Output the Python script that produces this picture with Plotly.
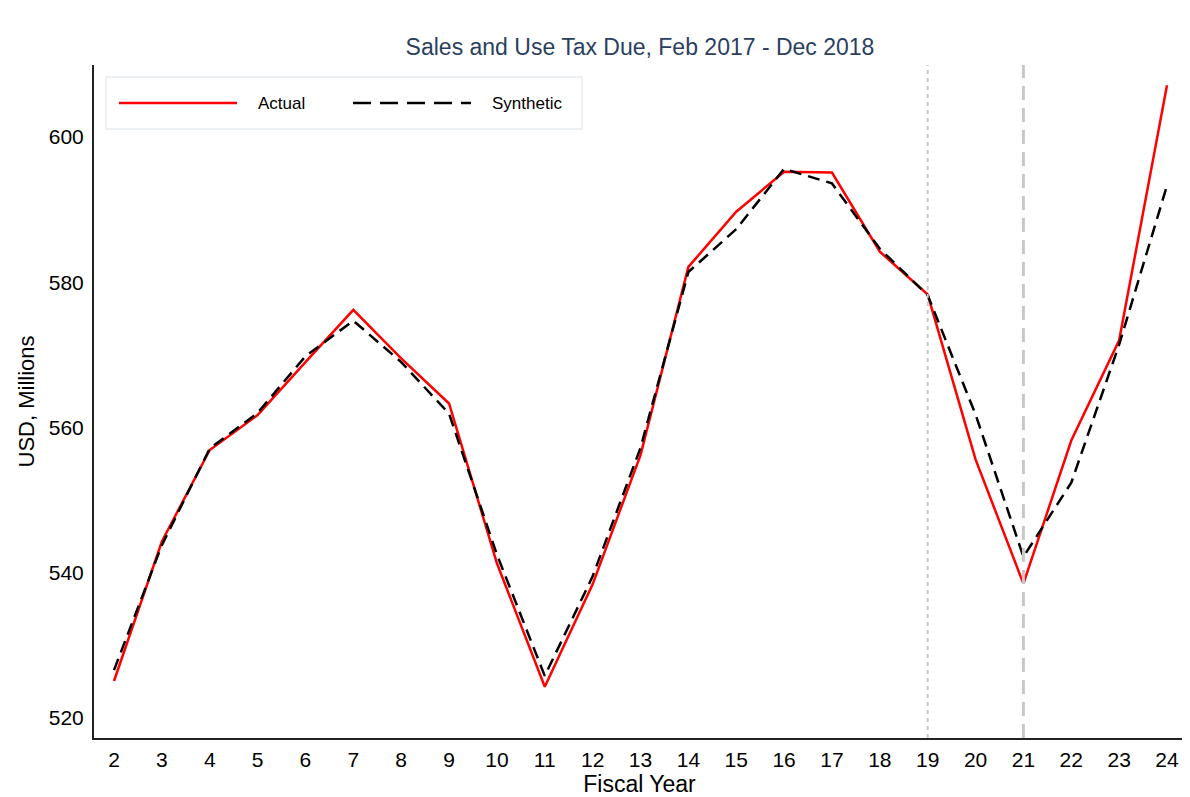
import plotly.graph_objects as go

fiscal_year = list(range(2, 25))
actual = [525.1, 544.3, 556.9, 561.7, 569.0, 576.2, 569.5, 563.3, 541.3, 524.3,
          538.4, 556.2, 582.1, 589.7, 595.2, 595.1, 584.2, 578.3, 555.6, 538.5,
          558.2, 572.0, 607.1]
synthetic = [526.6, 543.8, 557.1, 562.0, 569.8, 574.7, 569.0, 561.9, 542.5, 525.8,
             539.5, 557.2, 581.4, 587.3, 595.6, 593.6, 584.6, 578.2, 561.8, 542.2,
             552.4, 571.4, 593.3]
event_lines = [19, 21]
y_ticks = [520, 540, 560, 580, 600]
FONT = "Liberation Sans, Arial, sans-serif"

fig = go.Figure()
fig.add_trace(go.Scatter(x=fiscal_year, y=actual, mode="lines", name="Actual",
                         line=dict(color="#ff0000", width=2.5)))
fig.add_trace(go.Scatter(x=fiscal_year, y=synthetic, mode="lines", name="Synthetic",
                         line=dict(color="#000000", width=2.5, dash="12px,7px")))

fig.add_vline(x=event_lines[0], line=dict(color="#c8c8c8", width=2, dash="4px,4px"))
fig.add_vline(x=event_lines[1], line=dict(color="#c8c8c8", width=3, dash="14px,8px"))

# custom legend
fig.add_shape(type="rect", xref="paper", yref="paper", x0=0.011, x1=0.4473, y0=0.9049, y1=0.9822,
              line=dict(color="#e4ecf0", width=1.5), fillcolor="white")
fig.add_shape(type="line", xref="paper", yref="paper", x0=0.0229, x1=0.1311, y0=0.9435, y1=0.9435,
              line=dict(color="#ff0000", width=2.5))
fig.add_shape(type="line", xref="paper", yref="paper", x0=0.2374, x1=0.3456, y0=0.9435, y1=0.9435,
              line=dict(color="#000000", width=2.5, dash="18px,9px"))
fig.add_annotation(text="Actual", xref="paper", yref="paper", x=0.1485, y=0.9435,
                   xanchor="left", yanchor="middle", showarrow=False,
                   font=dict(family=FONT, size=17, color="#000000"))
fig.add_annotation(text="Synthetic", xref="paper", yref="paper", x=0.363, y=0.9435,
                   xanchor="left", yanchor="middle", showarrow=False,
                   font=dict(family=FONT, size=17, color="#000000"))

fig.update_layout(
    width=1182, height=789,
    margin=dict(l=86, r=5, t=57, b=59),
    paper_bgcolor="white", plot_bgcolor="white",
    showlegend=False,
    title=dict(text="Sales and Use Tax Due, Feb 2017 - Dec 2018", x=0.5347, xanchor="center",
               y=0.9506, yanchor="middle",
               font=dict(family=FONT, size=23, color="#2a3f5f")),
    font=dict(family=FONT, size=21, color="#000000"),
)
fig.update_xaxes(range=[1.582, 24.376], tickmode="array", tickvals=fiscal_year,
                 ticktext=[str(v) for v in fiscal_year],
                 showgrid=False, zeroline=False, showline=True, linecolor="#222222", linewidth=2,
                 ticks="", ticklabelstandoff=2, tickfont=dict(size=21, color="#000000"),
                 title=dict(text="Fiscal Year", font=dict(size=23, color="#000000"), standoff=0))
fig.update_yaxes(range=[517.25, 609.9], tickmode="array", tickvals=y_ticks,
                 showgrid=False, zeroline=False, showline=True, linecolor="#222222", linewidth=2,
                 ticks="", ticklabelstandoff=4, tickfont=dict(size=21, color="#000000"),
                 title=dict(text="USD, Millions", font=dict(size=22, color="#000000"), standoff=8))

fig.write_html("out.html")
